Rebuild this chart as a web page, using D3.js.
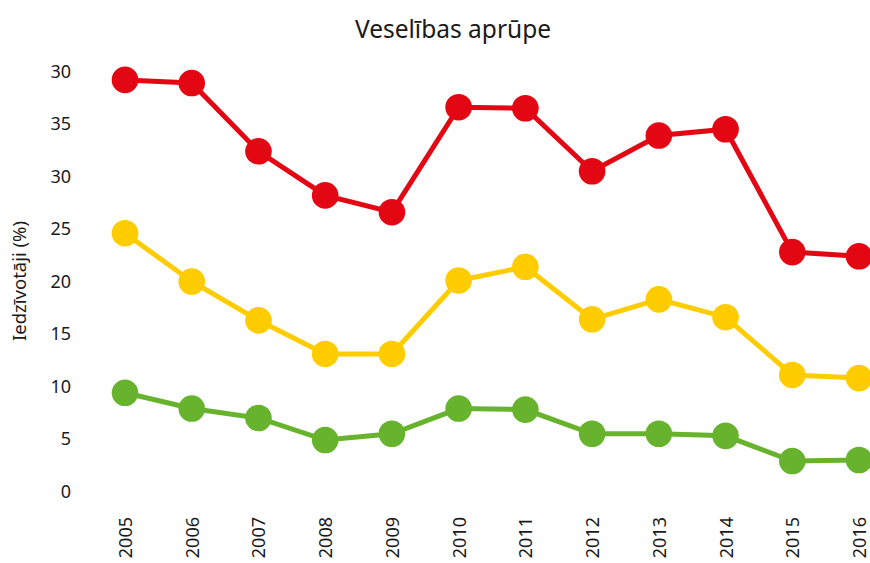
<!DOCTYPE html>
<html>
<head>
<meta charset="utf-8">
<script src="https://cdn.jsdelivr.net/npm/d3@7"></script>
<style>
  body { margin: 0; background: #fff; }
  svg text { font-family: "Noto Sans", "Open Sans", sans-serif; fill: #1a1a1a; }
</style>
</head>
<body>
<div id="chart"></div>
<script>
// chart data
var years = ["2005", "2006", "2007", "2008", "2009", "2010", "2011", "2012", "2013", "2014", "2015", "2016"];
var redValues = [39.2, 38.9, 32.4, 28.2, 26.6, 36.6, 36.5, 30.5, 33.9, 34.5, 22.8, 22.4];
var yellowValues = [24.6, 20.0, 16.3, 13.1, 13.1, 20.1, 21.4, 16.4, 18.3, 16.6, 11.1, 10.8];
var greenValues = [9.4, 7.9, 7.0, 4.9, 5.5, 7.9, 7.8, 5.5, 5.5, 5.3, 2.9, 3.0];
var yTickValues = [0, 5, 10, 15, 20, 25, 30, 35, 40];
var yTickLabels = ["0", "5", "10", "15", "20", "25", "30", "35", "30"];

var width = 870,
	height = 563;

var svg = d3.select("#chart")
	.append("svg")
	.attr("width", width)
	.attr("height", height);

var x = d3.scalePoint()
	.domain(years)
	.range([125, 859]);

var y = d3.scaleLinear()
	.domain([0, 40])
	.range([491.5, 71.5]);

// title
svg.append("text")
	.attr("x", 453)
	.attr("y", 38)
	.attr("text-anchor", "middle")
	.style("font-size", "24.5px")
	.text("Veselības aprūpe");

// y axis (labels only)
var yAxis = svg.append("g")
	.attr("transform", "translate(71,0)")
	.call(d3.axisLeft(y)
		.tickValues(yTickValues)
		.tickSize(0)
		.tickPadding(0)
		.tickFormat(function(d, i) { return yTickLabels[i]; }));
yAxis.select(".domain").remove();
yAxis.selectAll("text")
	.style("font-size", "18px")
	.style("font-family", null)
	.attr("fill", null);

svg.append("text")
	.attr("transform", "translate(26,281) rotate(-90)")
	.attr("text-anchor", "middle")
	.style("font-size", "18.5px")
	.text("Iedzīvotāji (%)");

// x axis (rotated year labels)
var xAxis = svg.append("g")
	.attr("transform", "translate(0,517)")
	.call(d3.axisBottom(x).tickSize(0).tickPadding(0));
xAxis.select(".domain").remove();
xAxis.selectAll("text")
	.attr("transform", "rotate(-90)")
	.attr("x", 0)
	.attr("y", 0)
	.attr("dy", "0.36em")
	.attr("text-anchor", "end")
	.style("font-size", "18px")
	.style("font-family", null)
	.attr("fill", null);

// series
var series = [
	{ values: greenValues, color: "#67b32e" },
	{ values: yellowValues, color: "#ffcc00" },
	{ values: redValues, color: "#e30613" }
];

var line = d3.line()
	.x(function(d, i) { return x(years[i]); })
	.y(function(d) { return y(d); });

series.forEach(function(s) {
	svg.append("path")
		.datum(s.values)
		.attr("d", line)
		.attr("fill", "none")
		.attr("stroke", s.color)
		.attr("stroke-width", 5);

	svg.selectAll(null)
		.data(s.values)
		.enter().append("circle")
		.attr("cx", function(d, i) { return x(years[i]); })
		.attr("cy", function(d) { return y(d); })
		.attr("r", 13.3)
		.attr("fill", s.color);
});
</script>
</body>
</html>
